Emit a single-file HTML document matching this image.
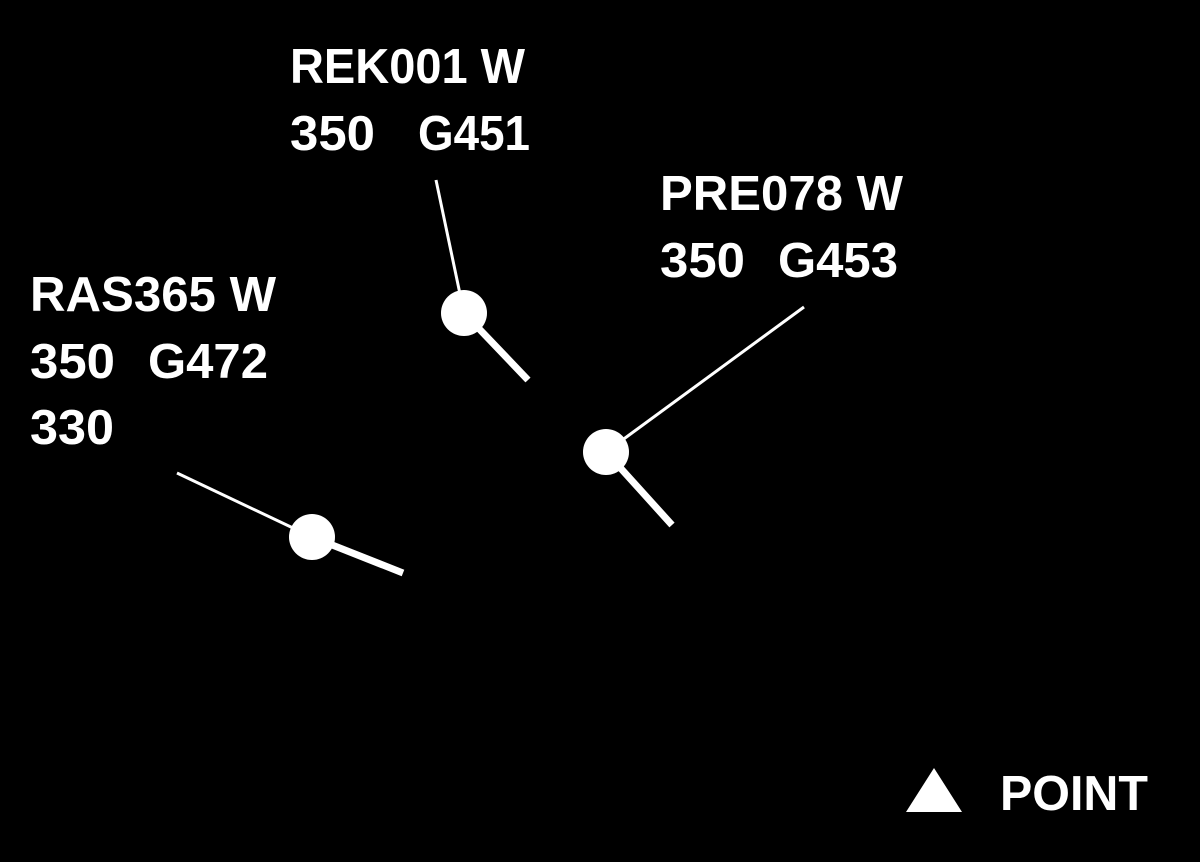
<!DOCTYPE html>
<html><head><meta charset="utf-8"><style>
html,body{margin:0;padding:0;background:#000;}
svg{display:block;}
text{font-family:"Liberation Sans",sans-serif;font-weight:bold;fill:#fff;font-size:49px;}
</style></head><body>
<svg width="1200" height="862" viewBox="0 0 1200 862" xmlns="http://www.w3.org/2000/svg">
<rect width="1200" height="862" fill="#000"/>
<g stroke="#fff" stroke-linecap="butt">
<line x1="436" y1="180" x2="464" y2="313" stroke-width="3"/>
<line x1="464" y1="313" x2="528" y2="380" stroke-width="7"/>
<line x1="804" y1="307" x2="606" y2="452" stroke-width="3"/>
<line x1="606" y1="452" x2="672" y2="525" stroke-width="7"/>
<line x1="177" y1="473" x2="312" y2="537" stroke-width="3"/>
<line x1="312" y1="537" x2="403" y2="573" stroke-width="7"/>
</g>
<g fill="#fff">
<circle cx="464" cy="313" r="23"/>
<circle cx="606" cy="452" r="23"/>
<circle cx="312" cy="537" r="23"/>
<polygon points="906,812 962,812 934,768"/>
</g>
<text x="290" y="83" textLength="235" lengthAdjust="spacingAndGlyphs">REK001 W</text>
<text x="290" y="150" textLength="85" lengthAdjust="spacingAndGlyphs">350</text>
<text x="418" y="150" textLength="112" lengthAdjust="spacingAndGlyphs">G451</text>
<text x="660" y="210" textLength="243" lengthAdjust="spacingAndGlyphs">PRE078 W</text>
<text x="660" y="277" textLength="85" lengthAdjust="spacingAndGlyphs">350</text>
<text x="778" y="277" textLength="120" lengthAdjust="spacingAndGlyphs">G453</text>
<text x="30" y="311" textLength="246" lengthAdjust="spacingAndGlyphs">RAS365 W</text>
<text x="30" y="378" textLength="85" lengthAdjust="spacingAndGlyphs">350</text>
<text x="148" y="378" textLength="120" lengthAdjust="spacingAndGlyphs">G472</text>
<text x="30" y="444" textLength="84" lengthAdjust="spacingAndGlyphs">330</text>
<text x="1000" y="810" textLength="148" lengthAdjust="spacingAndGlyphs">POINT</text>
</svg>
</body></html>
